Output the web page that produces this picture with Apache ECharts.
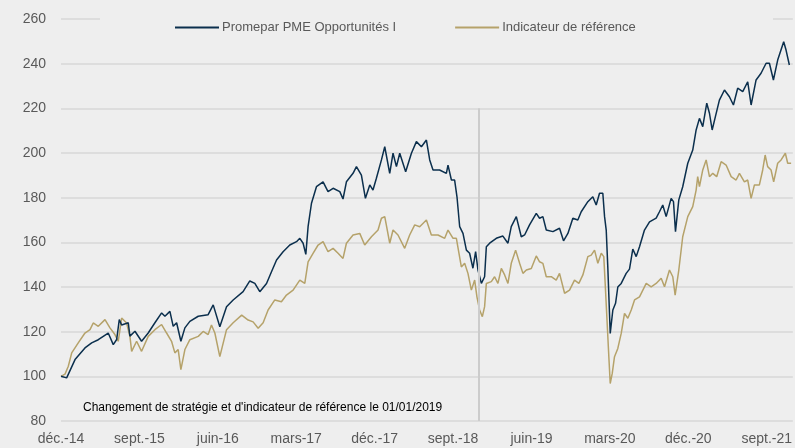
<!DOCTYPE html>
<html>
<head>
<meta charset="utf-8">
<script src="https://cdn.jsdelivr.net/npm/echarts@6/dist/echarts.min.js"></script>
<style>
  html, body { margin: 0; padding: 0; background: #eeeeee; }
  #chart { width: 795px; height: 448px; }
</style>
</head>
<body>
<div id="chart"></div>
<script>
// x = mois écoulés depuis déc. 2014
var xTickLabels = ['déc.-14', 'sept.-15', 'juin-16', 'mars-17', 'déc.-17', 'sept.-18', 'juin-19', 'mars-20', 'déc.-20', 'sept.-21'];

var fundMonths = [0, 0.65, 1.61, 2.75, 3.52, 4.28, 5.42, 6.0, 6.39, 6.69, 6.96, 7.72, 7.91, 8.49, 9.25, 10.01, 10.78, 11.55, 11.93, 12.5,
  12.88, 13.27, 13.76, 14.22, 14.79, 15.75, 16.89, 17.47, 18.23, 19.0, 19.76, 20.9, 21.67, 22.25, 22.82, 23.59, 24.16, 24.74, 25.49, 26.26,
  27.03, 27.41, 27.79, 28.1, 28.36, 28.75, 29.32, 30.08, 30.65, 31.23, 32.0, 32.37, 32.76, 33.52, 33.91, 34.48, 34.94, 35.44, 35.81, 36.2,
  36.78, 37.16, 37.73, 38.11, 38.5, 38.88, 39.56, 40.22, 40.79, 41.37, 41.94, 42.32, 42.7, 43.46, 44.23, 44.42, 44.81, 45.18, 45.45, 45.76,
  46.14, 46.53, 46.9, 47.28, 47.59, 47.86, 48.25, 48.62, 48.82, 49.2, 49.96, 50.72, 51.3, 51.68, 52.26, 52.83, 53.21, 53.78, 54.55, 54.93,
  55.31, 55.7, 56.46, 57.22, 57.68, 58.18, 58.75, 59.32, 59.71, 60.47, 61.04, 61.43, 61.81, 62.19, 62.39, 62.58, 62.76, 63.04, 63.34, 63.65,
  63.91, 64.3, 64.87, 65.25, 65.63, 66.02, 66.4, 66.97, 67.55, 68.31, 68.69, 69.07, 69.46, 70.03, 70.3, 70.53, 70.91, 71.36, 71.94, 72.51,
  72.9, 73.28, 73.66, 74.12, 74.43, 74.74, 75.11, 75.57, 76.15, 76.72, 77.18, 77.67, 78.25, 78.82, 79.21, 79.78, 80.35, 80.93, 81.31, 81.77,
  82.26, 82.95, 83.22, 83.6];
var fundValues = [100, 99.3, 107.5, 112.7, 115, 116.4, 119.4, 114.2, 116.5, 125.4, 123, 124, 118, 120.2, 115.7, 119.4, 124, 128.4, 126.9, 129.1,
  122.4, 124, 115.7, 121.7, 124.6, 126.9, 127.6, 132, 122.2, 131.2, 134.2, 137.9, 142.7, 141.6, 137.9, 141.6, 146.8, 152.1, 155.8, 158.8,
  160.3, 161.8, 159.6, 154.6, 167, 177.5, 184.9, 187.1, 182.7, 184.2, 182.7, 179.4, 187.1, 190.9, 193.9, 190.1, 179.7, 185.7, 183.4, 188.7,
  196.9, 202.8, 190.9, 199.9, 193.9, 199.9, 191.6, 199.9, 205.1, 202.8, 205.8, 196.9, 192.4, 192.4, 190.9, 194.6, 187.9, 187.9, 180.4, 167,
  164, 156.5, 155.1, 148.4, 155.8, 147.6, 141.6, 144.6, 158, 159.6, 161.8, 162.8, 159.6, 167, 171.5, 162.5, 163.3, 167.8, 173, 170.8,
  171.5, 165.5, 164.8, 166.3, 160.7, 164, 170.8, 170, 173.7, 178.2, 180.4, 176.7, 182, 182, 171.5, 165.5, 149, 119.2, 129.7, 132.7,
  140, 141.6, 146.1, 148, 157, 153.6, 158, 165.5, 169.2, 170.8, 173.7, 176.7, 171.5, 179.7, 178.2, 164.8, 179, 184.9, 195.4, 201.3,
  210.3, 215.5, 211.8, 222.3, 217.8, 210.3, 216.3, 223.7, 228.2, 225.2, 221.5, 229, 227.5, 231.9, 221.5, 232.7, 235.7, 240.2, 240.2, 232.7,
  241.6, 249.8, 246.1, 239.4];

var benchMonths = [0, 0.46, 0.84, 1.23, 1.98, 2.75, 3.33, 3.7, 4.28, 5.05, 5.62, 6.19, 6.57, 6.96, 7.53, 7.91, 8.11, 8.68, 9.25, 10.01,
  10.78, 11.55, 12.12, 12.69, 13.07, 13.45, 13.76, 14.22, 14.79, 15.75, 16.32, 16.89, 17.27, 17.66, 18.23, 19.0, 19.76, 20.74, 21.48, 22.05,
  22.63, 23.2, 23.77, 24.54, 25.3, 25.88, 26.64, 27.41, 27.98, 28.36, 28.93, 29.51, 30.08, 30.65, 31.23, 31.8, 32.37, 32.76, 33.52, 34.29,
  34.86, 35.63, 36.39, 36.78, 37.16, 37.73, 38.11, 38.68, 39.45, 40.02, 40.6, 41.17, 41.94, 42.51, 43.27, 44.04, 44.42, 45.0, 45.38, 45.68,
  45.95, 46.33, 46.71, 47.1, 47.48, 47.74, 48.05, 48.36, 48.62, 48.82, 49.39, 49.77, 50.15, 50.54, 50.92, 51.3, 51.68, 52.18, 52.64, 53.02,
  53.41, 53.98, 54.55, 54.93, 55.31, 55.7, 56.27, 56.84, 57.22, 57.8, 58.37, 58.94, 59.44, 59.9, 60.47, 60.86, 61.24, 61.62, 62.01, 62.3,
  62.46, 62.65, 62.88, 63.04, 63.27, 63.53, 63.91, 64.3, 64.68, 65.06, 65.45, 65.83, 66.4, 67.17, 67.74, 68.31, 68.89, 69.27, 69.84, 70.22,
  70.49, 70.91, 71.36, 71.94, 72.51, 72.9, 73.08, 73.28, 73.66, 74.05, 74.43, 74.81, 75.26, 75.77, 76.34, 76.92, 77.49, 77.87, 78.44, 78.82,
  79.21, 79.59, 80.16, 80.54, 80.82, 81.11, 81.5, 81.8, 82.26, 82.65, 83.14, 83.41, 83.8];
var benchValues = [100, 101, 104.5, 110.5, 115, 119.4, 120.9, 123.9, 122.4, 125.4, 121.7, 118.7, 115.7, 126.1, 123.9, 117.9, 111.2, 115.7, 111.2, 117.9,
  120.9, 123.2, 119.4, 115.7, 110.5, 112, 103, 112, 116.4, 117.9, 120.1, 118.7, 123, 119.4, 108.8, 120.9, 124, 127.4, 125.2, 124.4,
  121.5, 124, 129.7, 134.2, 133.4, 136.4, 138.6, 143.1, 141.6, 151.3, 155.1, 158.8, 160.3, 155.8, 157.3, 155.1, 152.8, 159.6, 163.3, 164,
  158.8, 162.5, 165.5, 170.8, 171.5, 159.6, 165.5, 163.3, 157.3, 163.3, 167.8, 167, 170, 163.3, 163.3, 161.8, 165.5, 161.8, 161.8, 155.1,
  149, 150.6, 146.1, 138.6, 143.1, 135.6, 129.7, 126.7, 131.2, 141.6, 142.4, 144.6, 141.6, 148.3, 145.4, 141.6, 150.6, 156.5, 150.6, 146.1,
  147.6, 148.3, 153.9, 151.3, 150.6, 144.6, 144.6, 143.1, 146.1, 137.2, 138.6, 143.1, 141.6, 145.4, 153.6, 154.3, 156.5, 150.6, 155.1, 153.6,
  141.6, 126.7, 108.8, 96.8, 101.3, 108.8, 112.5, 119.2, 128.2, 126, 129.7, 134.2, 135.6, 141.6, 140.1, 141.6, 143.9, 140.1, 147.6, 144.6,
  136.4, 147.6, 162.5, 171.5, 176, 183.4, 189.4, 184.9, 192.4, 196.9, 189.4, 190.9, 189.4, 196.1, 194.6, 189.4, 187.9, 190.9, 187.1, 187.9,
  179.7, 185.7, 185.7, 192.4, 199.1, 193.9, 192.4, 187.1, 195.4, 196.9, 199.9, 195.4, 195.4];

var changeMonth = 48; // 01/01/2019

function pairs(xs, ys) {
  return xs.map(function (x, i) { return [x, ys[i]]; });
}

var labelFont = '"Liberation Sans", Arial, sans-serif';
var chart = echarts.init(document.getElementById('chart'));
chart.setOption({
  backgroundColor: '#eeeeee',
  animation: false,
  grid: { left: 61, right: 0, top: 19, bottom: 27 },
  legend: {
    left: 170,
    top: 16,
    icon: 'rect',
    itemWidth: 44,
    itemHeight: 2,
    itemGap: 59,
    z: 5,
    textStyle: { color: '#595959', fontSize: 13, fontFamily: labelFont, padding: [0, 0, 0, -2] }
  },
  xAxis: {
    type: 'value',
    min: 0,
    max: 84,
    interval: 9,
    axisLine: { show: false },
    axisTick: { show: false },
    splitLine: { show: false },
    axisLabel: {
      color: '#595959',
      fontSize: 14,
      fontFamily: labelFont,
      margin: 11,
      showMaxLabel: false,
      formatter: function (v) { return xTickLabels[Math.round(v / 9)] || ''; }
    }
  },
  yAxis: {
    type: 'value',
    min: 80,
    max: 260,
    interval: 20,
    axisLine: { show: false },
    axisTick: { show: false },
    splitLine: { lineStyle: { color: '#d7d7d7', width: 1.5 } },
    axisLabel: { color: '#595959', fontSize: 14, fontFamily: labelFont, margin: 15 }
  },
  graphic: [
    { type: 'rect', z: 1, shape: { x: 100, y: 12, width: 673, height: 26 }, style: { fill: '#eeeeee' } },
    {
      type: 'text', z: 3, left: 83, top: 402,
      style: { text: "Changement de stratégie et d'indicateur de référence le 01/01/2019", fill: '#000000', font: '12px "Liberation Sans Narrow", "Liberation Sans", sans-serif' }
    }
  ],
  series: [
    {
      name: 'Promepar PME Opportunités I',
      type: 'line',
      symbol: 'none',
      data: pairs(fundMonths, fundValues),
      lineStyle: { color: '#0b2f4d', width: 1.5 },
      itemStyle: { color: '#0b2f4d' },
      z: 4,
      markLine: {
        silent: true,
        symbol: 'none',
        label: { show: false },
        lineStyle: { color: '#cccccc', width: 2, type: 'solid' },
        data: [[{ coord: [changeMonth, 80] }, { coord: [changeMonth, 220] }]]
      }
    },
    {
      name: 'Indicateur de référence',
      type: 'line',
      symbol: 'none',
      data: pairs(benchMonths, benchValues),
      lineStyle: { color: '#b5a26a', width: 1.5 },
      itemStyle: { color: '#b5a26a' },
      z: 3
    }
  ]
});
</script>
</body>
</html>
